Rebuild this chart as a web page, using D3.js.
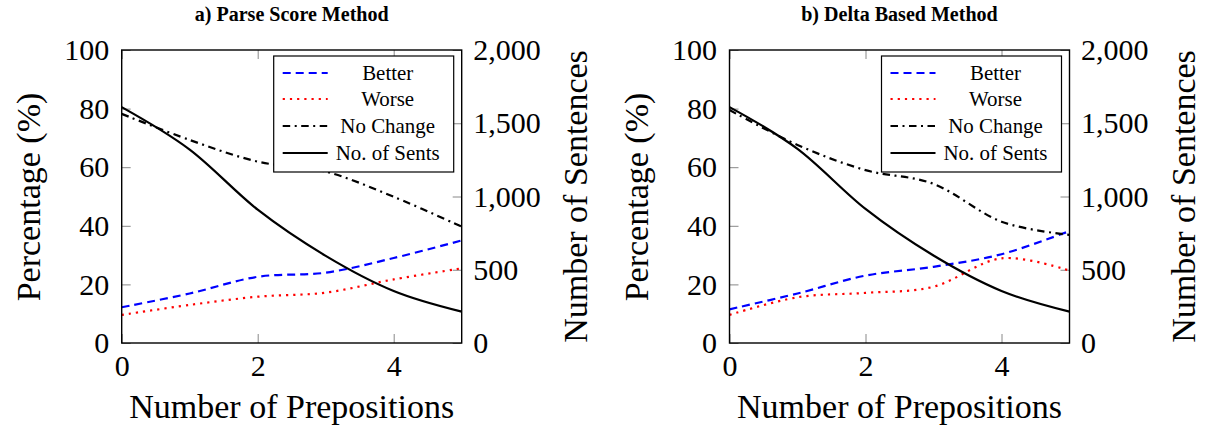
<!DOCTYPE html>
<html><head><meta charset="utf-8">
<script src="https://cdn.jsdelivr.net/npm/d3@7"></script>
<style>
body{margin:0;background:#fff}
svg{display:block}
</style>
</head><body>
<svg id="c" width="1211" height="428"></svg>
<script>
// ---- data ----
const xValues = [0, 1, 2, 3, 4, 5];
const panelTitles = ["a) Parse Score Method", "b) Delta Based Method"];
const betterA   = [12.2, 16.9, 22.6, 24.0, 29.0, 35.0];
const worseA    = [9.6, 13.0, 15.8, 17.2, 21.7, 25.5];
const noChangeA = [78.2, 69.3, 61.9, 58.5, 49.9, 39.7];
const sentsA    = [1610, 1320, 910, 595, 355, 214];
const betterB   = [11.5, 16.9, 23.0, 26.0, 30.3, 38.2];
const worseB    = [9.6, 15.6, 17.1, 19.2, 28.9, 24.7];
const noChangeB = [79.5, 67.6, 59.0, 54.3, 41.4, 36.9];
const sentsB    = [1610, 1325, 915, 597, 355, 214];
const xTicks = [0, 2, 4];
const leftTicks = [0, 20, 40, 60, 80, 100];
const rightTicks = [0, 500, 1000, 1500, 2000];
const legendLabels = ["Better", "Worse", "No Change", "No. of Sents"];
const xLabel = "Number of Prepositions";
const yLeftLabel = "Percentage (%)";
const yRightLabel = "Number of Sentences";

// ---- layout ----
const FONT = '"Liberation Serif", "Tinos", "Times New Roman", "DejaVu Serif", serif';
const svg = d3.select("#c").attr("font-family", FONT);
const W = 340, H = 293, TOP = 50;
const panels = [
  {left: 121.7, title: panelTitles[0], series: [betterA, worseA, noChangeA, sentsA]},
  {left: 729.5, title: panelTitles[1], series: [betterB, worseB, noChangeB, sentsB]}
];
const styles = [
  {color: "#0000ff", dash: "8,5", width: 2.2},
  {color: "#ff0000", dash: "2.2,5", width: 2.2},
  {color: "#000000", dash: "7.5,4.5,2,4.5", width: 2.2},
  {color: "#000000", dash: null, width: 2.2}
];
const fmtR = d3.format(",");
const fmtX = d3.format("d");

function mk(sel) { return sel.append("text").style("font-family", FONT).attr("fill", "#000"); }
function fitSize(text, target, weight) {
  const t = mk(svg).attr("font-size", 20).attr("font-weight", weight || "normal").text(text);
  const w = t.node().getComputedTextLength();
  t.remove();
  return 20 * target / w;
}
const titleSize = fitSize(panelTitles[0], 194, "bold");
const axisTitleSize = fitSize(xLabel, 325);
const legendSize = fitSize(legendLabels[3], 104);
const tickSize = 30;

panels.forEach(p => {
  const g = svg.append("g").attr("transform", `translate(${p.left},${TOP})`);
  const x = d3.scaleLinear().domain([0, 5]).range([0, W]);
  const yL = d3.scaleLinear().domain([0, 100]).range([H, 0]);
  const yR = d3.scaleLinear().domain([0, 2000]).range([H, 0]);

  const axB = g.append("g").attr("transform", `translate(0,${H})`)
    .call(d3.axisBottom(x).tickValues(xTicks).tickSize(-9).tickPadding(12).tickFormat(fmtX));
  const axT = g.append("g")
    .call(d3.axisTop(x).tickValues(xTicks).tickSize(-9).tickFormat(""));
  const axL = g.append("g")
    .call(d3.axisLeft(yL).tickValues(leftTicks).tickSize(-9).tickPadding(12.5).tickFormat(fmtX));
  const axR = g.append("g").attr("transform", `translate(${W},0)`)
    .call(d3.axisRight(yR).tickValues(rightTicks).tickSize(-9).tickPadding(11.5).tickFormat(fmtR));
  [axB, axT, axL, axR].forEach(a => {
    a.attr("font-family", FONT);
    a.select(".domain").remove();
    a.selectAll(".tick line").attr("stroke", "#888").attr("stroke-width", 1);
    a.selectAll(".tick text").attr("font-size", tickSize)
      .style("font-family", FONT).attr("fill", "#000");
  });
  axB.selectAll(".tick text").attr("dy", "0.71em");

  p.series.forEach((vals, i) => {
    const yS = i === 3 ? yR : yL;
    const line = d3.line()
      .x((d, j) => x(xValues[j]))
      .y(d => yS(d))
      .curve(d3.curveCardinal.tension(0));
    const path = g.append("path").datum(vals)
      .attr("d", line)
      .attr("fill", "none")
      .attr("stroke", styles[i].color)
      .attr("stroke-width", styles[i].width);
    if (styles[i].dash) path.attr("stroke-dasharray", styles[i].dash);
  });

  g.append("rect").attr("x", 0).attr("y", 0).attr("width", W).attr("height", H)
    .attr("fill", "none").attr("stroke", "#000").attr("stroke-width", 1.4);

  const lg = g.append("g").attr("transform", `translate(${W - 8 - 180},6)`);
  lg.append("rect").attr("width", 180).attr("height", 116)
    .attr("fill", "#fff").attr("stroke", "#000").attr("stroke-width", 1.2);
  const rowY = [17, 43, 70, 97];
  legendLabels.forEach((lab, i) => {
    const l = lg.append("line").attr("x1", 9).attr("x2", 54)
      .attr("y1", rowY[i]).attr("y2", rowY[i])
      .attr("stroke", styles[i].color).attr("stroke-width", styles[i].width);
    if (styles[i].dash) l.attr("stroke-dasharray", styles[i].dash);
    mk(lg).attr("x", 114).attr("y", rowY[i]).attr("dy", "0.32em")
      .attr("text-anchor", "middle").attr("font-size", legendSize).text(lab);
  });

  mk(g).attr("x", W / 2).attr("y", 21 - TOP).attr("text-anchor", "middle")
    .attr("font-weight", "bold").attr("font-size", titleSize).text(p.title);
  mk(g).attr("x", W / 2).attr("y", 418 - TOP).attr("text-anchor", "middle")
    .attr("font-size", axisTitleSize).text(xLabel);
  mk(g).attr("transform", `translate(${40 - 121.7},${H / 2 + 0.5}) rotate(-90)`)
    .attr("text-anchor", "middle").attr("font-size", axisTitleSize).text(yLeftLabel);
  mk(g).attr("transform", `translate(${W + 125},${H / 2}) rotate(-90)`)
    .attr("text-anchor", "middle").attr("font-size", axisTitleSize).text(yRightLabel);
});
</script>
</body></html>
